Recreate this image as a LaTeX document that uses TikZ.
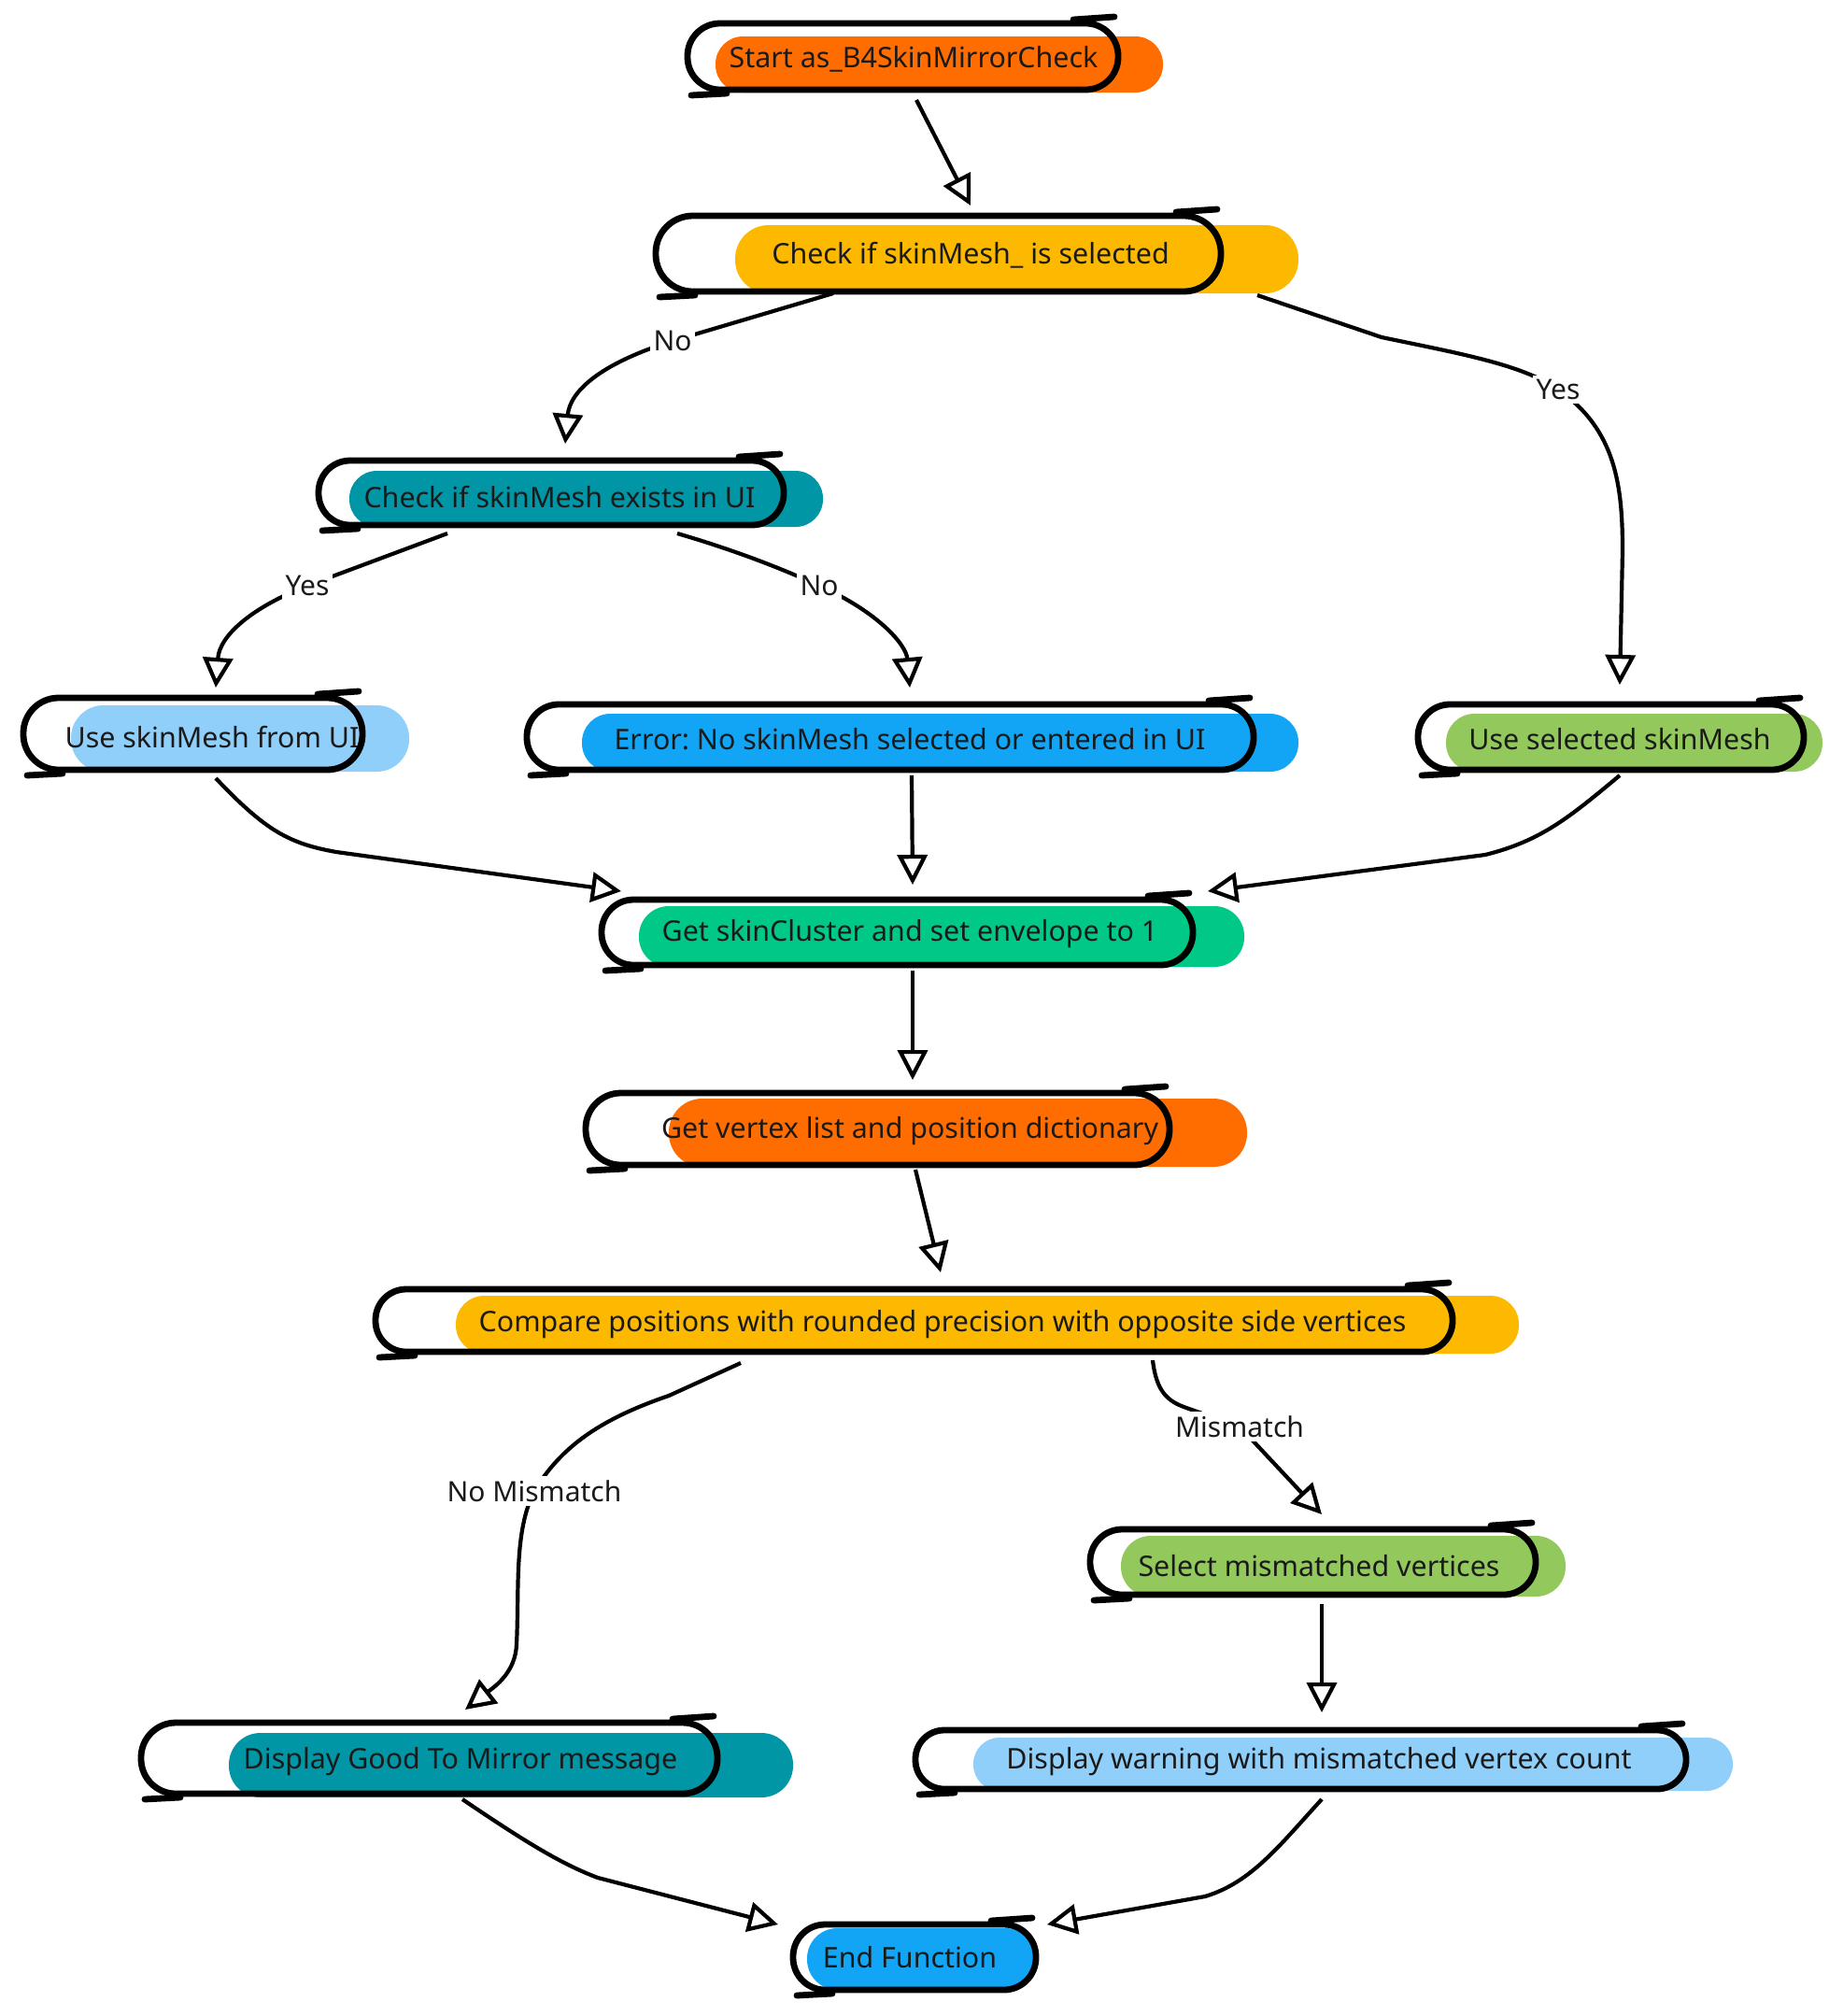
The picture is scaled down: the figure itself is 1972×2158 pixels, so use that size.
\documentclass[tikz,border=0pt]{standalone}
\usepackage{fontspec}
\setmainfont{Noto Sans}
\frenchspacing
\usetikzlibrary{arrows.meta,calc}
\definecolor{corange}{HTML}{FF6D00}
\definecolor{camber}{HTML}{FDB900}
\definecolor{cteal}{HTML}{0096A6}
\definecolor{clblue}{HTML}{90CFFA}
\definecolor{cblue}{HTML}{12A5F5}
\definecolor{cgreen}{HTML}{92C85C}
\definecolor{cemerald}{HTML}{00C987}
\definecolor{textc}{HTML}{1A1A1A}
\tikzset{
  txt/.style={font=\fontsize{15.2pt}{18pt}\selectfont, text=textc, inner sep=1pt},
  lbl/.style={font=\fontsize{15pt}{18pt}\selectfont, text=textc, fill=white, inner sep=2pt},
  outl/.style={line width=3.4pt, draw=black},
  hookmark/.style={line width=3.4pt, line cap=round},
  conn/.style={line width=2.1pt, -{Triangle[fill=white,length=16pt,width=16pt]}},
}
\newcommand{\pillfill}[5]{%
  \pgfmathsetmacro{\myrad}{0.245*(#5-#3)}%
  \fill[#1, rounded corners=\myrad pt] (#2,#3) rectangle (#4,#5);}
\newcommand{\pilldraw}[4]{%
  \pgfmathsetmacro{\myrad}{0.245*(#4-#2)}%
  \draw[outl, rounded corners=\myrad pt] (#1,#2) rectangle (#3,#4);
  \draw[hookmark] (#3-48,#2-4) -- (#3-4,#2-7);
  \draw[hookmark] (#1+4,#4+6) -- (#1+42,#4+4);}
\begin{document}
\begin{tikzpicture}[x=0.5pt,y=-0.5pt]
\useasboundingbox (0,0) rectangle (1972,2158);
% nodes
\pillfill{corange}{766}{39}{1245}{99}
\node[txt] (start) at (978,63) {Start as\_B4SkinMirrorCheck};
\pilldraw{736}{25}{1197}{96}

\pillfill{camber}{787}{241}{1390}{314}
\node[txt] (check1) at (1039,273) {Check if skinMesh\_ is selected};
\pilldraw{702}{231}{1307}{312}

\pillfill{cteal}{374}{504}{881}{564}
\node[txt] (checkUI) at (599,532) {Check if skinMesh exists in UI};
\pilldraw{341}{493}{839}{562}

\pillfill{clblue}{76}{755}{438}{826}
\node[txt] (useUI) at (227,789) {Use skinMesh from UI};
\pilldraw{25}{747}{388}{824}

\pillfill{cblue}{623}{764}{1390}{826}
\node[txt] (error) at (974,791) {Error: No skinMesh selected or entered in UI};
\pilldraw{564}{754}{1342}{824}

\pillfill{cgreen}{1548}{764}{1951}{826}
\node[txt] (useSel) at (1734,791) {Use selected skinMesh};
\pilldraw{1518}{754}{1931}{824}

\pillfill{cemerald}{684}{970}{1332}{1035}
\node[txt] (getSkin) at (974,1000) {Get skinCluster and set envelope to 1};
\pilldraw{644}{963}{1277}{1033}

\pillfill{corange}{716}{1176}{1335}{1249}
\node[txt] (getVertex) at (974,1211) {Get vertex list and position dictionary};
\pilldraw{627}{1170}{1252}{1247}

\pillfill{camber}{488}{1387}{1626}{1449}
\node[txt] (compare) at (1009,1418) {Compare positions with rounded precision with opposite side vertices};
\pilldraw{402}{1380}{1555}{1447}

\pillfill{cgreen}{1200}{1644}{1676}{1709}
\node[txt] (select) at (1412,1676) {Select mismatched vertices};
\pilldraw{1167}{1637}{1644}{1707}

\pillfill{cteal}{245}{1855}{849}{1924}
\node[txt] (good) at (493,1886) {Display Good To Mirror message};
\pilldraw{151}{1844}{768}{1920}

\pillfill{clblue}{1042}{1860}{1855}{1917}
\node[txt] (warning) at (1412,1886) {Display warning with mismatched vertex count};
\pilldraw{980}{1852}{1805}{1915}

\pillfill{cblue}{864}{2064}{1109}{2130}
\node[txt] (endF) at (974,2095) {End Function};
\pilldraw{849}{2060}{1109}{2130}

% connectors
\draw[conn] ($(start)+(3,44)$) -- ($(check1)+(0,-53)$);
\draw[conn] ($(check1)+(-147,41)$) -- (720,365) node[lbl] (lNoA) {No}
  .. controls (640,390) and (610,420) .. ($(checkUI)+(6,-57)$);
\draw[conn] ($(check1)+(307,43)$) -- (1479,361)
  .. controls (1560,378) and (1630,390) .. (1668,417) node[lbl] (lYesA) {Yes}
  .. controls (1730,460) and (1737,520) .. (1737,590) -- ($(useSel)+(0,-58)$);
\draw[conn] ($(checkUI)+(-120,39)$) -- (329,627) node[lbl] (lYesB) {Yes}
  .. controls (270,650) and (235,680) .. ($(useUI)+(4,-53)$);
\draw[conn] ($(checkUI)+(126,39)$) .. controls (790,590) and (840,610) .. (877,627) node[lbl] (lNoB) {No}
  .. controls (940,655) and (970,690) .. ($(error)+(0,-55)$);
\draw[conn] ($(useUI)+(4,44)$) .. controls (285,890) and (310,903) .. (360,912) -- ($(getSkin)+(-309,-46)$);
\draw[conn] ($(error)+(2,39)$) -- ($(getSkin)+(3,-53)$);
\draw[conn] ($(useSel)+(0,39)$) .. controls (1680,875) and (1650,900) .. (1590,915) -- ($(getSkin)+(319,-46)$);
\draw[conn] ($(getSkin)+(3,39)$) -- ($(getVertex)+(3,-55)$);
\draw[conn] ($(getVertex)+(6,41)$) -- ($(compare)+(-2,-56)$);
\draw[conn] ($(compare)+(-216,41)$) -- (716,1494)
  .. controls (640,1520) and (600,1550) .. (572,1596) node[lbl] (lNoMis) {No Mismatch}
  .. controls (550,1640) and (556,1700) .. (553,1760)
  .. controls (552,1790) and (530,1805) .. ($(good)+(5,-56)$);
\draw[conn] ($(compare)+(225,38)$) .. controls (1238,1490) and (1250,1500) .. (1270,1507)
  -- (1327,1527) node[lbl] (lMis) {Mismatch} -- ($(select)+(3,-55)$);
\draw[conn] ($(select)+(3,41)$) -- ($(warning)+(3,-53)$);
\draw[conn] ($(good)+(2,40)$) .. controls (560,1970) and (600,1995) .. (640,2010) -- ($(endF)+(-141,-35)$);
\draw[conn] ($(warning)+(3,40)$) .. controls (1370,1975) and (1340,2015) .. (1290,2030) -- ($(endF)+(147,-35)$);
\end{tikzpicture}
\end{document}
